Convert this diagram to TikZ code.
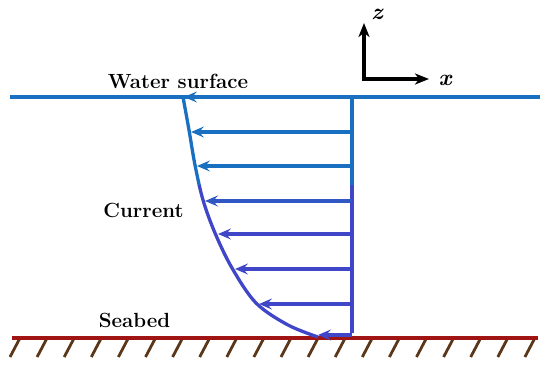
\documentclass[tikz,border=0pt]{standalone}
\usetikzlibrary{arrows.meta}
\definecolor{wblue}{RGB}{26,112,192}
\definecolor{wpurp}{RGB}{64,70,200}
\definecolor{seared}{RGB}{160,20,20}
\definecolor{hatchc}{RGB}{90,55,25}
\tikzset{
  lbl/.style={font=\fontsize{20.5}{22}\selectfont\bfseries, anchor=base, inner sep=0pt},
  axlbl/.style={font=\fontsize{23}{24}\selectfont\bfseries\itshape, inner sep=0pt},
  vel/.style={line width=3.3pt, -{Stealth[length=13pt,width=11pt,inset=5pt]}},
  axarr/.style={line width=3.3pt, -{Stealth[length=14pt,width=11pt,inset=4pt]}},
}
\begin{document}
\begin{tikzpicture}[x=1pt,y=-1pt]
\useasboundingbox (0,0) rectangle (550,368);
% water surface
\coordinate (sL) at (10,97);
\coordinate (sR) at (540,97);
\draw[wblue, line width=3.8pt] (sL) -- (sR);
% seabed
\coordinate (bL) at (12,338);
\coordinate (bR) at (538,338);
\foreach \i in {0,...,19}{
  \coordinate (h\i) at ({20+27.1*\i},338);
  \draw[hatchc, line width=2.8pt] (h\i) -- ++(-10,19);
}
\draw[seared, line width=3.2pt] (bL) -- (bR);
% profile points
\coordinate (c1) at (184,97);
\coordinate (c2) at (191,132);
\coordinate (c3) at (197,166);
\coordinate (c4) at (205,201);
\coordinate (c5) at (218,234);
\coordinate (c6) at (235,269);
\coordinate (c7) at (259,304);
\coordinate (c8) at (318,335);
\coordinate (r1) at (352,97);
\coordinate (r2) at (352,132);
\coordinate (r3) at (352,166);
\coordinate (r4) at (352,201);
\coordinate (r5) at (352,234);
\coordinate (r6) at (352,269);
\coordinate (r7) at (352,304);
\coordinate (r8) at (352,335);
\coordinate (rm) at (352,185);
% vertical line
\draw[wblue, line width=3.8pt] (r1) -- (rm);
\draw[wpurp, line width=3.8pt] (rm) -- ([yshift=1.9pt]r8);
% curve
\def\prof{plot[smooth, tension=0.55] coordinates {(183,97) (189,130) (195,165) (203,200) (215,233) (232,268) (256,303) (288,325) (318,337)}}
\begin{scope}
\clip (0,0) rectangle (550,185);
\draw[wblue, line width=3.3pt] \prof;
\end{scope}
\begin{scope}
\clip (0,185) rectangle (550,368);
\draw[wpurp, line width=3.3pt] \prof;
\end{scope}
% velocity arrows
\draw[vel, wblue] (r1) -- (c1);
\draw[vel, wblue] (r2) -- (c2);
\draw[vel, wblue] (r3) -- (c3);
\draw[vel, wpurp!60!wblue] (r4) -- (c4);
\draw[vel, wpurp] (r5) -- (c5);
\draw[vel, wpurp] (r6) -- (c6);
\draw[vel, wpurp] (r7) -- (c7);
\draw[vel, wpurp] (r8) -- (c8);
% axes
\coordinate (o) at (364,79);
\coordinate (zt) at (364,23);
\coordinate (xt) at (429,79);
\draw[axarr] (o) -- (zt);
\draw[axarr] ([xshift=-1.65pt]o) -- (xt);
\node[axlbl] (zl) at (377,14) {z};
\node[axlbl] (xl) at (445,80) {x};
% labels
\node[lbl] (ws) at (178,88) {Water surface};
\node[lbl] (cu) at (143.5,217) {Current};
\node[lbl] (sb) at (134.5,327) {Seabed};
\end{tikzpicture}
\end{document}
